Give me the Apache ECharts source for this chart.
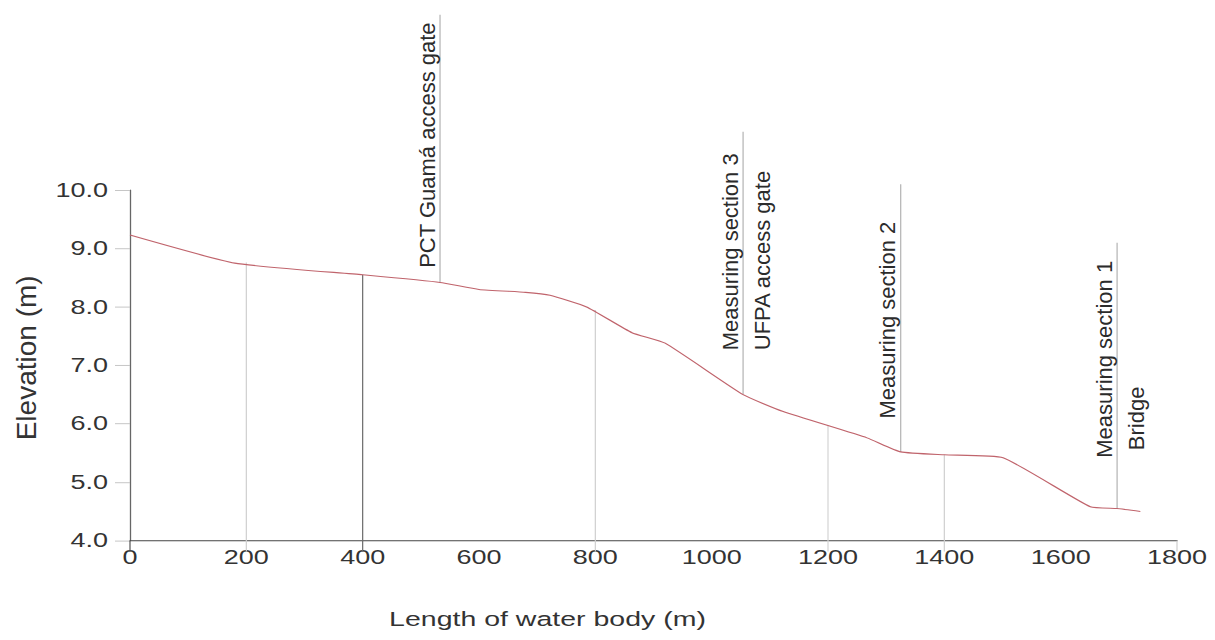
<!DOCTYPE html>
<html>
<head>
<meta charset="utf-8">
<script src="https://cdn.jsdelivr.net/npm/echarts@6/dist/echarts.min.js"></script>
<style>
  html, body { margin: 0; padding: 0; background: #fff; overflow: hidden; width: 1215px; height: 640px; }
  #main { width: 1215px; height: 889px; transform: scaleY(0.72); transform-origin: 0 0; }
</style>
</head>
<body>
<div id="main"></div>
<script>
// ---- data ----
const distance  = [0, 180, 400, 533, 600, 680, 722, 785, 863, 920, 1054, 1123, 1267, 1325, 1400, 1501, 1651, 1697, 1737];
const elevation = [9.23, 8.75, 8.55, 8.42, 8.30, 8.25, 8.20, 8.00, 7.56, 7.38, 6.50, 6.21, 5.76, 5.52, 5.47, 5.42, 4.58, 4.55, 4.50];

const xTicks = [0, 200, 400, 600, 800, 1000, 1200, 1400, 1600, 1800];
const yTicks = [4.0, 5.0, 6.0, 7.0, 8.0, 9.0, 10.0];

// drop lines from the profile to the axis
const dropX   = [0, 200, 400, 800, 1200, 1400, 1800];
const dropTop = [4, 8.76, 8.55, 7.95, 5.97, 5.47, 4];

// landmark markers
const markerX          = [533, 1054, 1325, 1697];
const markerBase       = [8.42, 6.50, 5.52, 4.55];
const markerTop        = [13.0, 11.0, 10.1, 9.1];
const markerLeftLabel  = ['PCT Guamá access gate', 'Measuring section 3', 'Measuring section 2', 'Measuring section 1'];
const markerLeftStart  = [8.67, 7.26, 6.09, 5.42];
const markerRightLabel = ['', 'UFPA access gate', '', 'Bridge'];
const markerRightStart = [null, 7.26, null, 5.55];

const xTitle = 'Length of water body (m)';
const yTitle = 'Elevation (m)';

// ---- styles ----
const SQUISH = 0.72;               // page is drawn tall, then compressed vertically
const UNSQ = 1 / SQUISH;           // counter-stretch for vertical texts
const dropColors = ['#555', '#cfcfcf', '#6a6a6a', '#cfcfcf', '#d4d4d4', '#cfcfcf', '#cfcfcf'];
const FONT = 'Liberation Sans, Arial, Helvetica, sans-serif';
const TEXT = '#333';

const chart = echarts.init(document.getElementById('main'), null, { renderer: 'svg' });

const profile = distance.map((d, i) => [d, elevation[i]]);
const drops = dropX.map((d, i) => [d, dropTop[i]]);
const markers = markerX.map((d, i) => [d, markerBase[i], markerTop[i]]);

function renderDrop(params, api) {
  const i = params.dataIndex;
  const x = api.value(0);
  const p0 = api.coord([x, yTicks[0]]);
  const p1 = api.coord([x, api.value(1)]);
  return {
    type: 'line',
    shape: { x1: p0[0], y1: p0[1] + 15, x2: p1[0], y2: p1[1] },
    style: { stroke: dropColors[i], lineWidth: 1.2 }
  };
}

function renderMarker(params, api) {
  const i = params.dataIndex;
  const x = api.value(0);
  const pb = api.coord([x, api.value(1)]);
  const pt = api.coord([x, api.value(2)]);
  const children = [{
    type: 'line',
    shape: { x1: pb[0], y1: pb[1], x2: pt[0], y2: pt[1] },
    style: { stroke: '#b2b2b2', lineWidth: 1.2 }
  }];
  const ls = api.coord([x, markerLeftStart[i]]);
  children.push({
    type: 'text', x: ls[0] - 2, y: ls[1], rotation: Math.PI / 2, scaleX: UNSQ,
    style: { text: markerLeftLabel[i], fontSize: 22, fontFamily: FONT, fill: '#2b2b2b', align: 'left', verticalAlign: 'bottom' }
  });
  if (markerRightLabel[i]) {
    const rs = api.coord([x, markerRightStart[i]]);
    children.push({
      type: 'text', x: rs[0] + 8, y: rs[1], rotation: Math.PI / 2, scaleX: UNSQ,
      style: { text: markerRightLabel[i], fontSize: 22, fontFamily: FONT, fill: '#2b2b2b', align: 'left', verticalAlign: 'top' }
    });
  }
  return { type: 'group', children };
}

chart.setOption({
  backgroundColor: '#fff',
  animation: false,
  grid: { left: 130, right: 38, top: 264, bottom: 138, containLabel: false, outerBoundsMode: 'none' },
  graphic: [{
    type: 'text', x: 27, y: 497, rotation: Math.PI / 2, scaleX: UNSQ, silent: true,
    style: { text: yTitle, fontSize: 28, fontFamily: FONT, fill: TEXT, align: 'center', verticalAlign: 'middle' }
  }],
  xAxis: {
    type: 'value',
    min: xTicks[0], max: xTicks[xTicks.length - 1], interval: 200,
    name: xTitle,
    nameLocation: 'middle', nameGap: 94,
    nameTextStyle: { fontSize: 28.5, fontFamily: FONT, color: TEXT, padding: [0, 212, 0, 0] },
    axisLine: { show: true, lineStyle: { color: '#444', width: 1.6 } },
    axisTick: { show: false },
    splitLine: { show: false },
    axisLabel: { fontSize: 27, fontFamily: FONT, color: TEXT, margin: 9, formatter: v => String(v) }
  },
  yAxis: {
    type: 'value',
    min: yTicks[0], max: yTicks[yTicks.length - 1], interval: 1,
    axisLine: { show: true, lineStyle: { color: '#666', width: 1.3 } },
    axisTick: { show: true, length: 15, lineStyle: { color: '#bdbdbd', width: 1.2 } },
    splitLine: { show: false },
    axisLabel: { fontSize: 27, fontFamily: FONT, color: TEXT, margin: 22, formatter: v => v.toFixed(1) }
  },
  series: [
    { type: 'custom', data: drops, renderItem: renderDrop, clip: false, silent: true, z: 1 },
    { type: 'custom', data: markers, renderItem: renderMarker, clip: false, silent: true, z: 2 },
    {
      type: 'line', data: profile, showSymbol: false, smooth: 0.15, clip: false, silent: true, z: 3,
      lineStyle: { color: '#c0646c', width: 1.5 }
    }
  ]
});
</script>
</body>
</html>
